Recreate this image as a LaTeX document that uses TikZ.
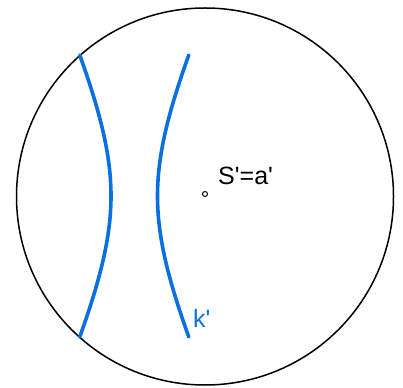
\documentclass[tikz,border=0pt]{standalone}
\usepackage{fontspec}
\setmainfont{Liberation Sans}
\definecolor{kblue}{RGB}{10,112,224}
\newcommand{\sq}{\textquotesingle}
\begin{document}
\begin{tikzpicture}[x=1pt,y=-1pt,
  disk/.style={draw=black,line width=1.5pt},
  geod/.style={draw=kblue,line width=3.6pt,line cap=round},
  lbl/.style={inner sep=0pt,font=\fontsize{25}{29}\selectfont}]
\useasboundingbox (0,0) rectangle (403,387);
\draw[disk] (205,196.5) circle (188.5);
\draw[geod] plot[domain=-141:141,samples=80,smooth,variable=\t]
  ({161-50*sqrt(1+(\t/110)^2)},{196+\t});
\draw[geod] plot[domain=-141:141,samples=80,smooth,variable=\t]
  ({107.5+50*sqrt(1+(\t/110)^2)},{196+\t});
\node[draw=black,line width=1pt,circle,minimum size=5pt,inner sep=0pt] (S) at (205,194) {};
\node[lbl,anchor=base west] (Sa) at (218,184) {S\sq=a\sq};
\node[lbl,anchor=base west,text=kblue] (k) at (193,327.5) {k\sq};
\end{tikzpicture}
\end{document}
